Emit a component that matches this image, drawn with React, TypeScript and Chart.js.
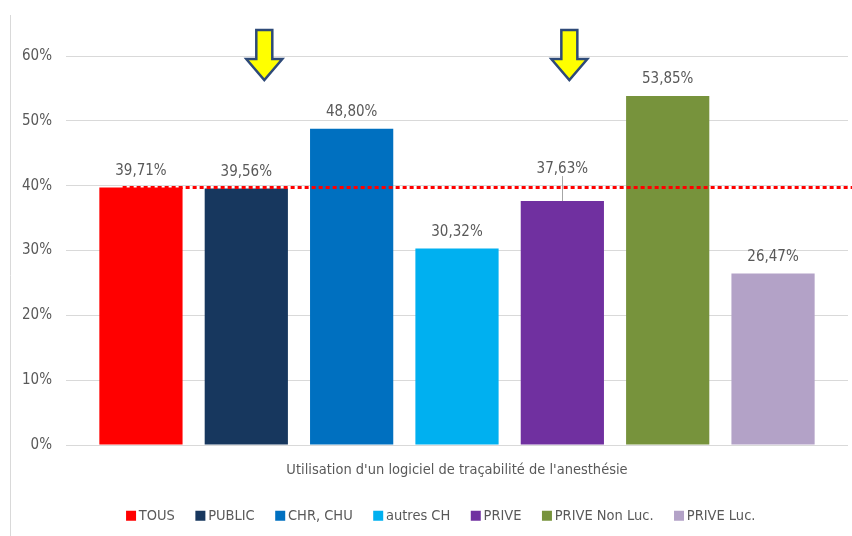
import React, { useEffect, useRef } from "react";
import { Chart, registerables } from "chart.js";

Chart.register(...registerables);

const categories = ["Utilisation d'un logiciel de traçabilité de l'anesthésie"];
const seriesNames = ["TOUS", "PUBLIC", "CHR, CHU", "autres CH", "PRIVE", "PRIVE Non Luc.", "PRIVE Luc."];
const seriesValues = [39.71, 39.56, 48.8, 30.32, 37.63, 53.85, 26.47];
const seriesColors = ["#FF0000", "#17375E", "#0070C0", "#00B0F0", "#7030A0", "#77933C", "#B3A2C7"];
const referenceValue = 39.71;
const arrowSeries = [1, 4];
const arrowOffsets = [18, 7];
const yTicks = [0, 10, 20, 30, 40, 50, 60];

const FONT = "'DejaVu Sans Condensed', 'Liberation Sans Narrow', Arial, sans-serif";
const TEXT = "#595959";

const fmt = (v: number) => v.toFixed(2).replace(".", ",") + "%";

const decorPlugin = {
  id: "decor",
  afterLayout(chart: any) {
    const l = chart.legend;
    if (l) {
      l.left += 15;
      l.right += 15;
    }
  },
  beforeDraw(chart: any) {
    const ctx = chart.ctx;
    ctx.save();
    ctx.strokeStyle = "#D9D9D9";
    ctx.lineWidth = 1;
    ctx.beginPath();
    ctx.moveTo(10.5, 15);
    ctx.lineTo(10.5, chart.height);
    ctx.stroke();
    ctx.restore();
  },
  afterDatasetsDraw(chart: any) {
    const ctx = chart.ctx;
    const yScale = chart.scales.y;
    ctx.save();
    ctx.font = "15px " + FONT;
    ctx.fillStyle = TEXT;
    ctx.textAlign = "center";
    ctx.textBaseline = "bottom";
    chart.data.datasets.forEach((ds: any, i: number) => {
      const bar = chart.getDatasetMeta(i).data[0];
      if (!bar) return;
      const v = ds.data[0];
      const extra = i === 4 ? 15 : 0;
      const ty = bar.y - 9 - extra;
      ctx.fillText(fmt(v), bar.x, ty);
      if (extra) {
        ctx.strokeStyle = "#A6A6A6";
        ctx.lineWidth = 1;
        ctx.beginPath();
        ctx.moveTo(Math.round(bar.x) + 0.5, ty - 1);
        ctx.lineTo(Math.round(bar.x) + 0.5, bar.y);
        ctx.stroke();
      }
    });
    const first = chart.getDatasetMeta(0).data[0];
    const ry = yScale.getPixelForValue(referenceValue);
    ctx.strokeStyle = "#FF0000";
    ctx.lineWidth = 3;
    ctx.setLineDash([4, 3]);
    ctx.beginPath();
    ctx.moveTo(first.x - first.width * 0.22, ry);
    ctx.lineTo(chart.width, ry);
    ctx.stroke();
    ctx.setLineDash([]);
    arrowSeries.forEach((si, k) => {
      const bar = chart.getDatasetMeta(si).data[0];
      const cx = bar.x + arrowOffsets[k];
      const top = chart.chartArea.top - 26;
      const join = top + 29;
      const tip = top + 50;
      ctx.beginPath();
      ctx.moveTo(cx - 8, top);
      ctx.lineTo(cx + 8, top);
      ctx.lineTo(cx + 8, join);
      ctx.lineTo(cx + 18, join);
      ctx.lineTo(cx, tip);
      ctx.lineTo(cx - 18, join);
      ctx.lineTo(cx - 8, join);
      ctx.closePath();
      ctx.fillStyle = "#FFFF00";
      ctx.fill();
      ctx.strokeStyle = "#2E4A78";
      ctx.lineWidth = 2.5;
      ctx.lineJoin = "miter";
      ctx.stroke();
    });
    ctx.restore();
  },
};

export default function App() {
  const ref = useRef<HTMLCanvasElement>(null);
  useEffect(() => {
    if (!ref.current) return;
    const chart = new Chart(ref.current, {
      type: "bar",
      data: {
        labels: categories,
        datasets: seriesNames.map((name, i) => ({
          label: name,
          data: [seriesValues[i]],
          backgroundColor: seriesColors[i],
          borderWidth: 0,
          barPercentage: 0.79,
          categoryPercentage: 0.943,
        })),
      },
      options: {
        responsive: false,
        animation: false,
        layout: { padding: { top: 56, right: 4, left: 8, bottom: 3 } },
        plugins: {
          legend: {
            position: "bottom",
            labels: {
              usePointStyle: true,
              pointStyle: "rect",
              boxWidth: 1,
              boxHeight: 10,
              color: TEXT,
              font: { family: FONT, size: 14.5 },
              padding: 25,
            },
          },
          tooltip: { enabled: false },
        },
        scales: {
          x: {
            grid: { display: false },
            border: { display: false },
            afterFit: (scale: any) => {
              scale.height -= 3;
            },
            ticks: { color: TEXT, font: { family: FONT, size: 14.5 }, padding: 8 },
          },
          y: {
            min: 0,
            max: 60,
            afterBuildTicks: (axis: any) => {
              axis.ticks = yTicks.map((v) => ({ value: v }));
            },
            grid: { color: "#D9D9D9", drawTicks: false },
            border: { display: false },
            ticks: {
              color: TEXT,
              font: { family: FONT, size: 15 },
              padding: 14,
              callback: (v: any) => v + "%",
            },
          },
        },
      },
      plugins: [decorPlugin],
    });
    return () => chart.destroy();
  }, []);
  return (
    <div style={{ position: "fixed", left: 0, top: 0, width: 852, height: 536, background: "#fff" }}>
      <canvas ref={ref} width={852} height={536} />
    </div>
  );
}
